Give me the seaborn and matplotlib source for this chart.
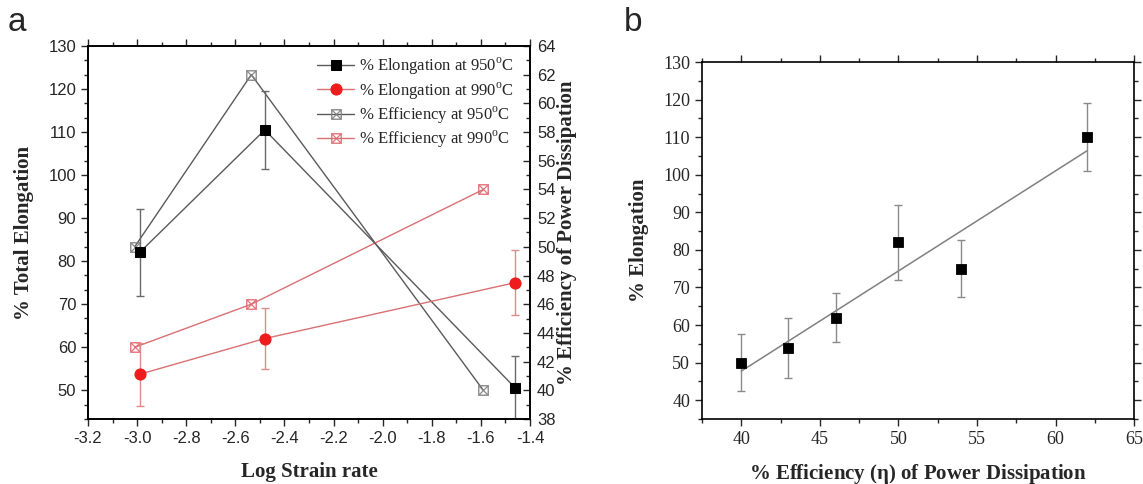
import numpy as np
import pandas as pd
import matplotlib as mpl
mpl.use('Agg')
import matplotlib.pyplot as plt
import seaborn as sns
from matplotlib.ticker import MultipleLocator

# panel a : elongation (left axis) and efficiency (right axis) vs log strain rate
log_rate_el = [-2.99, -2.48, -1.46]
elong_950 = [82.0, 110.5, 50.5]
elong_950_err = [10.0, 9.0, 7.5]
elong_990 = [53.7, 62.0, 75.0]
elong_990_err = [7.3, 7.0, 7.5]

log_rate_eff = [-3.01, -2.535, -1.59]
eff_950 = [50.0, 62.0, 40.0]
eff_990 = [43.0, 46.0, 54.0]

# panel b : elongation vs efficiency
eff_b = [40, 43, 46, 50, 54, 62]
elong_b = [50, 54, 62, 82, 75, 110]
elong_b_err = [7.5, 8.0, 6.5, 10.0, 7.5, 9.0]

serif = ['Liberation Serif', 'DejaVu Serif']
sans = ['Liberation Sans', 'DejaVu Sans']

sns.set_style("ticks")
plt.rcParams['font.family'] = serif
plt.rcParams['mathtext.fontset'] = 'custom'
plt.rcParams['mathtext.rm'] = 'Liberation Serif'

fig = plt.figure(figsize=(11.43, 4.84), dpi=100)
ax = fig.add_axes([0.077, 0.1343, 0.3867, 0.7707])
ax2 = ax.twinx()

gray_line = '#5a5a5a'
red_pt = '#ee1c1c'
red_line = '#d87074'

df_el = pd.DataFrame({'x': log_rate_el, 'e950': elong_950, 'e990': elong_990})
df_eff = pd.DataFrame({'x': log_rate_eff, 'f950': eff_950, 'f990': eff_990})

ax.errorbar(log_rate_el, elong_950, yerr=elong_950_err, fmt='none',
            ecolor='#6a6a6a', elinewidth=1, capsize=3, zorder=2)
ax.errorbar(log_rate_el, elong_990, yerr=elong_990_err, fmt='none',
            ecolor='#e08a8c', elinewidth=1, capsize=3, zorder=2)
sns.lineplot(data=df_el, x='x', y='e950', ax=ax, color=gray_line, lw=1,
             marker='s', markersize=7, markerfacecolor='black',
             markeredgecolor='black', label='% Elongation at 950$^{\\mathregular{o}}$C',
             legend=False, zorder=3)
sns.lineplot(data=df_el, x='x', y='e990', ax=ax, color=red_line, lw=1,
             marker='o', markersize=8, markerfacecolor=red_pt,
             markeredgecolor=red_pt, label='% Elongation at 990$^{\\mathregular{o}}$C',
             legend=False, zorder=3)
sns.lineplot(data=df_eff, x='x', y='f950', ax=ax2, color=gray_line, lw=1,
             marker='$\\boxtimes$', markersize=7.5, markerfacecolor='#808080',
             markeredgecolor='#808080', markeredgewidth=0.3,
             label='% Efficiency at 950$^{\\mathregular{o}}$C', legend=False)
sns.lineplot(data=df_eff, x='x', y='f990', ax=ax2, color=red_line, lw=1,
             marker='$\\boxtimes$', markersize=7.5, markerfacecolor='#e06870',
             markeredgecolor='#e06870', markeredgewidth=0.3,
             label='% Efficiency at 990$^{\\mathregular{o}}$C', legend=False)

ax.set_xlim(-3.2, -1.4)
ax.set_ylim(43.3, 130)
ax2.set_ylim(38, 64)
ax.xaxis.set_major_locator(MultipleLocator(0.2))
ax.xaxis.set_minor_locator(MultipleLocator(0.1))
ax.yaxis.set_major_locator(MultipleLocator(10))
ax.yaxis.set_minor_locator(MultipleLocator(10 / 3))
ax2.yaxis.set_major_locator(MultipleLocator(2))
ax2.yaxis.set_minor_locator(MultipleLocator(1))
ax.xaxis.set_major_formatter(mpl.ticker.FormatStrFormatter('%.1f'))

ax.tick_params(axis='both', which='major', direction='out', length=5, width=1,
               labelsize=12, top=True)
ax.tick_params(axis='both', which='minor', direction='out', length=3, width=1, top=True)
ax2.tick_params(axis='y', which='major', direction='in', length=5, width=1,
                labelsize=12, pad=5)
ax2.tick_params(axis='y', which='minor', direction='in', length=3, width=1)
for lab in ax.get_xticklabels() + ax.get_yticklabels() + ax2.get_yticklabels():
    lab.set_family(sans)

ax.set_xlabel('Log Strain rate', fontsize=15, fontweight='bold', labelpad=12)
ax.set_ylabel('% Total Elongation', fontsize=15, fontweight='bold', labelpad=10)
ax2.set_ylabel('% Efficiency of Power Dissipation', fontsize=15, fontweight='bold',
               labelpad=1)
for a in (ax, ax2):
    for s in a.spines.values():
        s.set_linewidth(1.2)
        s.set_color('black')

h1, l1 = ax.get_legend_handles_labels()
h2, l2 = ax2.get_legend_handles_labels()
ax.legend(h1 + h2, l1 + l2, loc='upper right', bbox_to_anchor=(0.99, 1.005),
          frameon=False, fontsize=12, handlelength=2.2, handletextpad=0.3,
          labelspacing=0.18, borderaxespad=0.3, numpoints=1)
ax2.set_zorder(ax.get_zorder() - 1)
ax.patch.set_visible(False)

# panel b
bx = fig.add_axes([0.6142, 0.1343, 0.378, 0.7376])
df_b = pd.DataFrame({'eff': eff_b, 'elong': elong_b})
sns.regplot(data=df_b, x='eff', y='elong', ax=bx, ci=None, scatter=False,
            truncate=True, line_kws=dict(color='#808080', lw=1.1))
bx.errorbar(eff_b, elong_b, yerr=elong_b_err, fmt='none', ecolor='#8a8a8a',
            elinewidth=1, capsize=3)
sns.scatterplot(data=df_b, x='eff', y='elong', ax=bx, marker='s', s=55,
                color='black', edgecolor='black', zorder=4)
bx.set_xlim(37.5, 65)
bx.set_ylim(35, 130)
bx.xaxis.set_major_locator(MultipleLocator(5))
bx.xaxis.set_minor_locator(MultipleLocator(2.5))
bx.yaxis.set_major_locator(MultipleLocator(10))
bx.yaxis.set_minor_locator(MultipleLocator(5))
bx.tick_params(axis='both', which='major', direction='out', length=5, width=1,
               labelsize=13)
bx.tick_params(axis='both', which='minor', direction='out', length=3, width=1)
bx.tick_params(axis='both', which='both', top=True, right=True)
for s in bx.spines.values():
    s.set_linewidth(1.2)
    s.set_color('black')
bx.set_xlabel('% Efficiency ($\\mathregular{\\eta}$) of Power Dissipation', fontsize=15,
              fontweight='bold', labelpad=10)
bx.set_ylabel('% Elongation', fontsize=15, fontweight='bold', labelpad=10)

fig.text(0.007, 0.985, 'a', fontsize=24, va='top', family=sans)
fig.text(0.546, 0.985, 'b', fontsize=24, va='top', family=sans)

fig.savefig('out.png', dpi=100)
